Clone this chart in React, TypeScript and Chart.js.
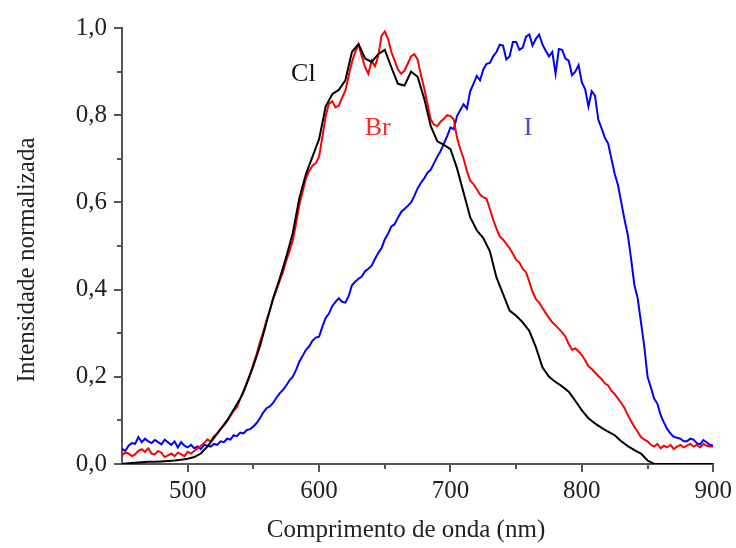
import React, { useEffect, useRef } from 'react';
import { Chart, registerables } from 'chart.js';

Chart.register(...registerables);

// Wavelength grid for the Cl curve (nm)
const clWavelengths = [
  450, 455, 460, 465, 470, 475, 480, 485, 490, 495,
  500, 505, 510, 515, 520, 525, 530, 535, 540, 545,
  550, 555, 560, 565, 570, 575, 580, 585, 590, 595,
  600, 605, 610, 615, 620, 625, 630, 635, 640, 645,
  650, 655, 660, 665, 670, 675, 680, 685, 690, 695,
  700, 705, 710, 715, 720, 725, 730, 735, 740, 745,
  750, 755, 760, 765, 770, 775, 780, 785, 790, 795,
  800, 805, 810, 815, 820, 825, 830, 835, 840, 845,
  850, 855, 860, 865, 870, 875, 880, 885, 890, 895,
  900,
];

const clValues = [
  0.000, 0.002, 0.003, 0.004, 0.005, 0.005, 0.006, 0.007, 0.008, 0.010,
  0.012, 0.016, 0.024, 0.040, 0.060, 0.080, 0.100, 0.125, 0.150, 0.185,
  0.225, 0.270, 0.325, 0.380, 0.425, 0.475, 0.530, 0.610, 0.665, 0.705,
  0.745, 0.820, 0.848, 0.858, 0.880, 0.945, 0.963, 0.930, 0.922, 0.940,
  0.950, 0.910, 0.872, 0.868, 0.900, 0.888, 0.838, 0.775, 0.740, 0.732,
  0.722, 0.678, 0.622, 0.566, 0.536, 0.518, 0.488, 0.428, 0.390, 0.352,
  0.340, 0.325, 0.305, 0.268, 0.222, 0.200, 0.188, 0.178, 0.166, 0.145,
  0.123, 0.105, 0.093, 0.083, 0.074, 0.066, 0.052, 0.041, 0.032, 0.024,
  0.008, 0.000, 0.000, 0.000, 0.000, 0.000, 0.000, 0.000, 0.000, 0.000,
  0.000,
];

// Wavelength grid for the Br and I curves (nm)
const brIWavelengths = [
  450, 452.5, 455, 457.5, 460, 462.5, 465, 467.5, 470, 472.5,
  475, 477.5, 480, 482.5, 485, 487.5, 490, 492.5, 495, 497.5,
  500, 502.5, 505, 507.5, 510, 512.5, 515, 517.5, 520, 522.5,
  525, 527.5, 530, 532.5, 535, 537.5, 540, 542.5, 545, 547.5,
  550, 552.5, 555, 557.5, 560, 562.5, 565, 567.5, 570, 572.5,
  575, 577.5, 580, 582.5, 585, 587.5, 590, 592.5, 595, 597.5,
  600, 602.5, 605, 607.5, 610, 612.5, 615, 617.5, 620, 622.5,
  625, 627.5, 630, 632.5, 635, 637.5, 640, 642.5, 645, 647.5,
  650, 652.5, 655, 657.5, 660, 662.5, 665, 667.5, 670, 672.5,
  675, 677.5, 680, 682.5, 685, 687.5, 690, 692.5, 695, 697.5,
  700, 702.5, 705, 707.5, 710, 712.5, 715, 717.5, 720, 722.5,
  725, 727.5, 730, 732.5, 735, 737.5, 740, 742.5, 745, 747.5,
  750, 752.5, 755, 757.5, 760, 762.5, 765, 767.5, 770, 772.5,
  775, 777.5, 780, 782.5, 785, 787.5, 790, 792.5, 795, 797.5,
  800, 802.5, 805, 807.5, 810, 812.5, 815, 817.5, 820, 822.5,
  825, 827.5, 830, 832.5, 835, 837.5, 840, 842.5, 845, 847.5,
  850, 852.5, 855, 857.5, 860, 862.5, 865, 867.5, 870, 872.5,
  875, 877.5, 880, 882.5, 885, 887.5, 890, 892.5, 895, 897.5,
  900,
];

const brValues = [
  0.020, 0.026, 0.024, 0.018, 0.022, 0.030, 0.034, 0.028, 0.036, 0.024,
  0.022, 0.030, 0.026, 0.016, 0.020, 0.024, 0.018, 0.026, 0.022, 0.018,
  0.028, 0.024, 0.030, 0.036, 0.042, 0.048, 0.056, 0.052, 0.064, 0.070,
  0.080, 0.088, 0.098, 0.110, 0.122, 0.130, 0.150, 0.164, 0.186, 0.206,
  0.230, 0.252, 0.280, 0.302, 0.330, 0.352, 0.378, 0.398, 0.420, 0.440,
  0.466, 0.488, 0.513, 0.552, 0.595, 0.625, 0.655, 0.672, 0.684, 0.690,
  0.705, 0.750, 0.798, 0.826, 0.832, 0.818, 0.822, 0.840, 0.856, 0.890,
  0.922, 0.945, 0.962, 0.935, 0.910, 0.895, 0.925, 0.912, 0.935, 0.982,
  0.992, 0.975, 0.945, 0.925, 0.905, 0.895, 0.902, 0.918, 0.935, 0.940,
  0.928, 0.892, 0.862, 0.825, 0.790, 0.778, 0.775, 0.785, 0.792, 0.800,
  0.798, 0.790, 0.748, 0.722, 0.700, 0.672, 0.650, 0.642, 0.630, 0.618,
  0.612, 0.608, 0.585, 0.560, 0.540, 0.522, 0.515, 0.505, 0.495, 0.482,
  0.468, 0.462, 0.448, 0.440, 0.418, 0.395, 0.378, 0.370, 0.358, 0.346,
  0.335, 0.325, 0.318, 0.310, 0.302, 0.292, 0.275, 0.262, 0.265, 0.258,
  0.250, 0.238, 0.224, 0.218, 0.210, 0.202, 0.195, 0.185, 0.180, 0.168,
  0.160, 0.150, 0.140, 0.128, 0.112, 0.098, 0.085, 0.074, 0.062, 0.056,
  0.052, 0.044, 0.040, 0.046, 0.036, 0.042, 0.038, 0.044, 0.034, 0.040,
  0.044, 0.038, 0.042, 0.046, 0.040, 0.044, 0.038, 0.046, 0.042, 0.040,
  0.040,
];

const iValues = [
  0.035, 0.030, 0.042, 0.048, 0.046, 0.062, 0.050, 0.058, 0.052, 0.048,
  0.055, 0.050, 0.045, 0.056, 0.050, 0.044, 0.052, 0.038, 0.050, 0.042,
  0.038, 0.044, 0.036, 0.040, 0.034, 0.044, 0.042, 0.040, 0.046, 0.044,
  0.052, 0.050, 0.058, 0.056, 0.066, 0.064, 0.072, 0.070, 0.078, 0.080,
  0.086, 0.094, 0.105, 0.118, 0.128, 0.132, 0.140, 0.152, 0.162, 0.170,
  0.180, 0.192, 0.200, 0.216, 0.235, 0.248, 0.262, 0.270, 0.283, 0.290,
  0.292, 0.315, 0.335, 0.345, 0.362, 0.372, 0.380, 0.372, 0.370, 0.385,
  0.410, 0.418, 0.425, 0.430, 0.442, 0.448, 0.455, 0.470, 0.484, 0.495,
  0.515, 0.528, 0.545, 0.550, 0.565, 0.578, 0.585, 0.592, 0.600, 0.615,
  0.632, 0.645, 0.655, 0.668, 0.675, 0.690, 0.705, 0.718, 0.735, 0.752,
  0.772, 0.768, 0.798, 0.812, 0.825, 0.815, 0.855, 0.872, 0.890, 0.880,
  0.905, 0.918, 0.920, 0.935, 0.945, 0.962, 0.960, 0.928, 0.935, 0.968,
  0.968, 0.950, 0.955, 0.980, 0.985, 0.960, 0.975, 0.985, 0.962, 0.948,
  0.935, 0.945, 0.895, 0.952, 0.950, 0.930, 0.925, 0.892, 0.900, 0.915,
  0.875, 0.860, 0.820, 0.855, 0.845, 0.790, 0.770, 0.748, 0.735, 0.700,
  0.665, 0.640, 0.600, 0.560, 0.525, 0.470, 0.410, 0.380, 0.325, 0.270,
  0.200, 0.176, 0.150, 0.138, 0.112, 0.095, 0.080, 0.070, 0.062, 0.060,
  0.058, 0.052, 0.052, 0.058, 0.056, 0.048, 0.045, 0.055, 0.050, 0.044,
  0.042,
];

const xTickValues = [500, 600, 700, 800, 900];
const xMinorValues = [550, 650, 750, 850];
const yTickValues = [0, 0.2, 0.4, 0.6, 0.8, 1.0];
const yMinorValues = [0.1, 0.3, 0.5, 0.7, 0.9];

const seriesNames = ['Cl', 'Br', 'I'];
const seriesColors = ['#000000', '#ff0000', '#0000ff'];
const labelColors = ['#111111', '#ff2a2a', '#4b4bc4'];
const labelX = [588, 644.6, 759];
const labelY = [0.894, 0.77, 0.77];

const xTitle = 'Comprimento de onda (nm)';
const yTitle = 'Intensidade normalizada';

const FONT = '"Liberation Serif", "Times New Roman", serif';
const AXIS_COLOR = '#555555';
const TEXT_COLOR = '#222222';

const decorPlugin = {
  id: 'decor',
  afterDraw(chart: any) {
    const { ctx } = chart;
    const xs = chart.scales.x;
    const ys = chart.scales.y;
    const area = chart.chartArea;
    ctx.save();
    ctx.strokeStyle = AXIS_COLOR;
    ctx.lineWidth = 2;
    const drawX = (v: number, len: number) => {
      const px = Math.round(xs.getPixelForValue(v));
      ctx.beginPath();
      ctx.moveTo(px, area.bottom);
      ctx.lineTo(px, area.bottom + len);
      ctx.stroke();
    };
    const drawY = (v: number, len: number) => {
      const py = Math.round(ys.getPixelForValue(v));
      ctx.beginPath();
      ctx.moveTo(area.left, py);
      ctx.lineTo(area.left - len, py);
      ctx.stroke();
    };
    xTickValues.forEach((v) => drawX(v, 8));
    xMinorValues.forEach((v) => drawX(v, 5));
    yTickValues.forEach((v) => drawY(v, 8));
    yMinorValues.forEach((v) => drawY(v, 5));

    ctx.font = `26px ${FONT}`;
    ctx.textAlign = 'center';
    ctx.textBaseline = 'middle';
    seriesNames.forEach((name, i) => {
      ctx.fillStyle = labelColors[i];
      ctx.fillText(name, xs.getPixelForValue(labelX[i]), ys.getPixelForValue(labelY[i]));
    });

    ctx.fillStyle = TEXT_COLOR;
    ctx.font = `25px ${FONT}`;
    ctx.fillText(xTitle, 406, 530);
    ctx.translate(27, 260);
    ctx.rotate(-Math.PI / 2);
    ctx.fillText(yTitle, 0, 0);
    ctx.restore();
  },
};

export default function App() {
  const canvasRef = useRef<HTMLCanvasElement | null>(null);

  useEffect(() => {
    const canvas = canvasRef.current;
    if (!canvas) return;
    const xGrids = [clWavelengths, brIWavelengths, brIWavelengths];
    const datasets = [clValues, brValues, iValues].map((vals, s) => ({
      label: seriesNames[s],
      data: xGrids[s].map((w, i) => ({ x: w, y: vals[i] })),
      borderColor: seriesColors[s],
      backgroundColor: seriesColors[s],
      borderWidth: 2,
      pointRadius: 0,
      tension: 0,
      fill: false,
    }));
    const chart = new Chart(canvas, {
      type: 'line',
      data: { datasets },
      options: {
        animation: false,
        responsive: false,
        devicePixelRatio: 1,
        layout: { padding: { left: 0, top: 28, right: 22, bottom: 0 } },
        plugins: { legend: { display: false }, tooltip: { enabled: false } },
        scales: {
          x: {
            type: 'linear',
            min: 450,
            max: 900,
            afterBuildTicks: (s: any) => {
              s.ticks = xTickValues.map((v) => ({ value: v }));
            },
            afterFit: (s: any) => {
              s.height = 84;
            },
            grid: { display: false, drawTicks: true, tickLength: 8 },
            border: { display: true, color: AXIS_COLOR, width: 2 },
            ticks: {
              color: TEXT_COLOR,
              font: { family: FONT, size: 25 },
              padding: 4,
              maxRotation: 0,
              callback: (v: any) => String(v),
            },
          },
          y: {
            type: 'linear',
            min: 0,
            max: 1,
            afterBuildTicks: (s: any) => {
              s.ticks = yTickValues.map((v) => ({ value: v }));
            },
            afterFit: (s: any) => {
              s.width = 122;
            },
            grid: { display: false, drawTicks: true, tickLength: 8 },
            border: { display: true, color: AXIS_COLOR, width: 2 },
            ticks: {
              color: TEXT_COLOR,
              font: { family: FONT, size: 25 },
              padding: 7,
              callback: (v: any) => Number(v).toFixed(1).replace('.', ','),
            },
          },
        },
      },
      plugins: [decorPlugin],
    });
    return () => chart.destroy();
  }, []);

  return (
    <div style={{ position: 'absolute', left: 0, top: 0, width: 736, height: 548, background: '#fff' }}>
      <canvas ref={canvasRef} width={736} height={548} />
    </div>
  );
}
